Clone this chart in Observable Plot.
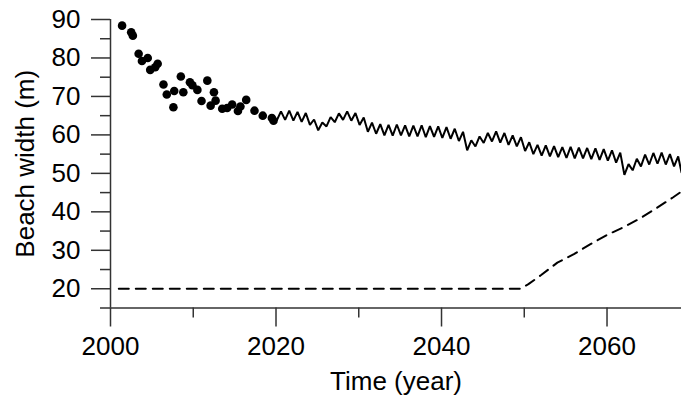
<!DOCTYPE html>
<html><head><meta charset="utf-8">
<script src="https://cdn.jsdelivr.net/npm/d3@7"></script>
<script src="https://cdn.jsdelivr.net/npm/@observablehq/plot@0.6"></script>
<style>html,body{margin:0;padding:0;background:#fff;}</style>
</head><body><div id="chart"></div>
<script>
// Observed beach width (dots)
const obsYears = [2001.4, 2002.5, 2002.7, 2003.4, 2003.8, 2004.5, 2004.8, 2005.4, 2005.7, 2006.4, 2006.8, 2007.6, 2007.7, 2008.5, 2008.8, 2009.6, 2009.9, 2010.5, 2011.0, 2011.7, 2012.1, 2012.5, 2012.7, 2013.5, 2014.1, 2014.7, 2015.4, 2015.7, 2016.4, 2017.4, 2018.4, 2019.5, 2019.7];
const obsWidths = [88.4, 86.7, 85.8, 81.1, 79.2, 80.0, 76.9, 77.6, 78.5, 73.1, 70.5, 67.2, 71.4, 75.2, 71.1, 73.7, 72.9, 71.7, 68.8, 74.1, 67.6, 71.1, 68.9, 66.8, 67.0, 67.9, 66.2, 67.4, 69.1, 66.3, 65.0, 64.4, 63.7];

// Modelled beach width (solid line), troughs and peaks
const modelYears = [2019.7,
 2020.1, 2020.6, 2021.1, 2021.6, 2022.1, 2022.6, 2023.1, 2023.6, 2024.1, 2024.6,
 2025.1, 2025.6, 2026.1, 2026.6, 2027.1, 2027.6, 2028.1, 2028.6, 2029.1, 2029.6,
 2030.1, 2030.6, 2031.1, 2031.6, 2032.1, 2032.6, 2033.1, 2033.6, 2034.1, 2034.6,
 2035.1, 2035.6, 2036.1, 2036.6, 2037.1, 2037.6, 2038.1, 2038.6, 2039.1, 2039.6,
 2040.1, 2040.6, 2041.1, 2041.6, 2042.1, 2042.6, 2043.1, 2043.6, 2044.1, 2044.6,
 2045.1, 2045.6, 2046.1, 2046.6, 2047.1, 2047.6, 2048.1, 2048.6, 2049.1, 2049.6,
 2050.1, 2050.6, 2051.1, 2051.6, 2052.1, 2052.6, 2053.1, 2053.6, 2054.1, 2054.6,
 2055.1, 2055.6, 2056.1, 2056.6, 2057.1, 2057.6, 2058.1, 2058.6, 2059.1, 2059.6,
 2060.1, 2060.6, 2061.1, 2061.6, 2062.1, 2062.6, 2063.1, 2063.6, 2064.1, 2064.6,
 2065.1, 2065.6, 2066.1, 2066.6, 2067.1, 2067.6, 2068.1, 2068.6, 2069.0];
const modelWidths = [64.2,
 63.8, 66.1, 63.9, 66.3, 63.7, 66.0, 63.4, 65.7, 62.6, 64.0,
 61.2, 63.2, 62.2, 64.6, 63.3, 65.6, 63.9, 66.1, 63.7, 65.7,
 62.6, 64.5, 60.8, 63.2, 60.3, 62.8, 59.9, 62.6, 59.8, 62.7,
 59.9, 62.5, 59.6, 62.4, 59.6, 62.5, 59.4, 62.3, 59.5, 62.2,
 59.2, 62.0, 59.0, 61.6, 58.4, 60.8, 56.0, 58.6, 57.0, 59.6,
 57.9, 60.5, 58.3, 60.9, 58.0, 60.5, 57.4, 59.9, 57.0, 59.4,
 55.8, 58.1, 55.0, 57.4, 54.6, 57.3, 54.4, 57.1, 54.2, 56.8,
 54.0, 56.9, 53.9, 56.7, 53.9, 56.6, 53.7, 56.5, 53.5, 56.3,
 53.3, 56.0, 52.8, 55.4, 49.6, 52.4, 50.8, 53.8, 51.8, 54.9,
 52.3, 55.3, 52.5, 55.4, 52.3, 55.0, 51.8, 54.4, 50.3];

// Minimum width (dashed line)
const limitYears = [2001.0, 2049.5, 2050.5, 2052.0, 2054.0, 2056.0, 2058.0, 2060.0, 2062.0, 2064.0, 2066.0, 2068.0, 2069.0];
const limitWidths = [20.0, 20.0, 21.2, 23.5, 26.8, 29.0, 31.6, 34.0, 36.0, 38.3, 41.0, 43.8, 45.3];

// Axis ticks
const xTicks = [2000, 2020, 2040, 2060];
const xMinorTicks = [2010, 2030, 2050];
const yTicks = [20, 30, 40, 50, 60, 70, 80, 90];
const yMinorTicks = [15, 25, 35, 45, 55, 65, 75, 85];
const xLabel = "Time (year)";
const yLabel = "Beach width (m)";

const obs = obsYears.map((t, i) => ({t, w: obsWidths[i]}));
const model = modelYears.map((t, i) => ({t, w: modelWidths[i]}));
const limit = limitYears.map((t, i) => ({t, w: limitWidths[i]}));

const axisColor = "#333";
const fs = 26;
const chart = Plot.plot({
  width: 681,
  height: 398,
  marginLeft: 110,
  marginRight: 0,
  marginTop: 19,
  marginBottom: 90.5,
  x: {domain: [2000, 2069]},
  y: {domain: [15, 90]},
  style: {fontFamily: "'Liberation Sans', Arial, sans-serif", fontSize: fs + "px", color: "#000", background: "#fff", overflow: "visible"},
  marks: [
    Plot.ruleX([2000], {y1: 15, y2: 90, stroke: axisColor, strokeWidth: 1.5}),
    Plot.ruleY([15], {x1: 2000, x2: 2069, stroke: axisColor, strokeWidth: 1.5}),
    Plot.axisY(yTicks, {tickSize: 19, tickPadding: 11, label: null, stroke: axisColor, strokeWidth: 1.5, fontSize: fs, fill: "#000"}),
    Plot.axisY(yMinorTicks, {tickSize: 10, tickFormat: () => "", label: null, stroke: axisColor, strokeWidth: 1.5}),
    Plot.axisX(xTicks, {tickSize: 19, tickPadding: 10, label: null, tickFormat: d => String(d), stroke: axisColor, strokeWidth: 1.5, fontSize: fs, fill: "#000"}),
    Plot.axisX(xMinorTicks, {tickSize: 10, tickFormat: () => "", label: null, stroke: axisColor, strokeWidth: 1.5}),
    Plot.line(limit, {x: "t", y: "w", stroke: "#000", strokeWidth: 2, strokeDasharray: "10,7"}),
    Plot.line(model, {x: "t", y: "w", stroke: "#000", strokeWidth: 2, strokeLinejoin: "miter"}),
    Plot.dot(obs, {x: "t", y: "w", r: 4.3, fill: "#000", stroke: null}),
    Plot.text([xLabel], {frameAnchor: "bottom", textAnchor: "middle", lineAnchor: "middle", dy: 74, fontSize: fs, fill: "#000"}),
    Plot.text([yLabel], {frameAnchor: "left", textAnchor: "middle", lineAnchor: "middle", rotate: -90, dx: -85, dy: 0, fontSize: fs, fill: "#000"})
  ]
});
document.getElementById("chart").appendChild(chart);
</script>
</body></html>
